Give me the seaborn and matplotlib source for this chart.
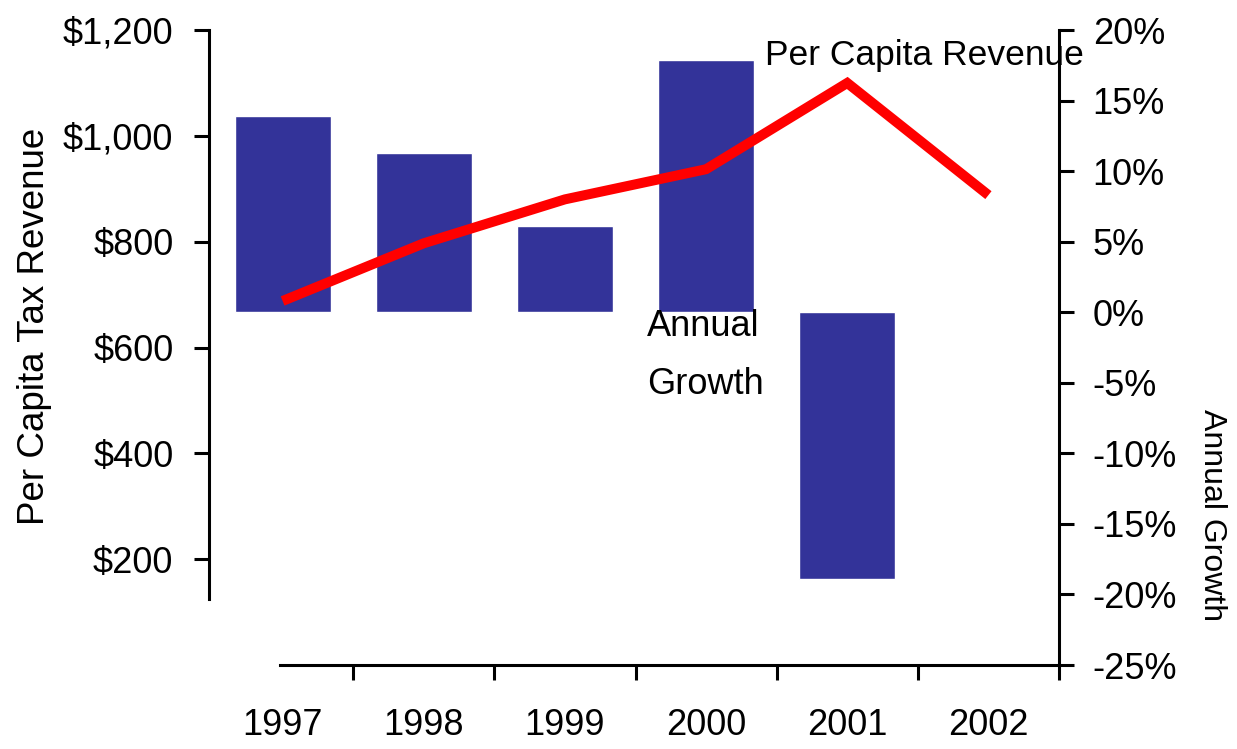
import numpy as np
import pandas as pd
import matplotlib
matplotlib.use("Agg")
import matplotlib.pyplot as plt
from matplotlib.ticker import FixedLocator, FuncFormatter
import seaborn as sns

# ---- data ----
years = ["1997", "1998", "1999", "2000", "2001", "2002"]
revenue = [688, 797, 880, 937, 1100, 888]          # per capita revenue ($), left axis
growth = [13.9, 11.3, 6.1, 17.9, -18.9, np.nan]     # annual growth (%), right axis
rev_ticks = [200, 400, 600, 800, 1000, 1200]
growth_ticks = [-25, -20, -15, -10, -5, 0, 5, 10, 15, 20]

sns.set_theme(style="white")
plt.rcParams["font.family"] = ["Liberation Sans", "DejaVu Sans"]
plt.rcParams["text.color"] = "black"

df = pd.DataFrame({"Year": years, "Revenue": revenue, "Growth": growth,
                   "pos": np.arange(len(years))})

BAR = "#333399"
LINE = "#FF0000"
TXT = 26

fig = plt.figure(figsize=(12.37, 7.49), dpi=100)
ax = fig.add_axes([0.1714, 0.1121, 0.6847, 0.8478])   # revenue (left)
ax2 = ax.twinx()                                       # growth (right)

sns.barplot(data=df, x="Year", y="Growth", order=years, ax=ax2,
            color=BAR, saturation=1, width=0.68, errorbar=None)
sns.lineplot(data=df, x="pos", y="Revenue", ax=ax, color=LINE,
             linewidth=7.2, solid_capstyle="butt", solid_joinstyle="miter")

ax.set_zorder(ax2.get_zorder() + 1)
ax.patch.set_visible(False)

# limits
ax.set_xlim(-0.5, len(years) - 0.5)
ax.set_ylim(0, 1200)
ax2.set_ylim(-25, 20)

# x ticks: marks at boundaries, labels at centers
ax.xaxis.set_major_locator(FixedLocator(np.arange(len(years)) + 0.5))
ax.xaxis.set_major_formatter(FuncFormatter(lambda v, p: ""))
ax.xaxis.set_minor_locator(FixedLocator(np.arange(len(years))))
ax.xaxis.set_minor_formatter(FuncFormatter(lambda v, p: years[int(round(v))]))
ax.tick_params(axis="x", which="major", direction="out", length=10.5, width=2.2,
               color="black", bottom=True)
ax.tick_params(axis="x", which="minor", length=0, pad=31, labelsize=TXT,
               labelcolor="black", bottom=True)

# left axis
ax.yaxis.set_major_locator(FixedLocator(rev_ticks))
ax.yaxis.set_major_formatter(FuncFormatter(lambda v, p: f"${v:,.0f}"))
ax.tick_params(axis="y", which="major", direction="out", length=10.8, width=2.2,
               color="black", left=True, pad=15, labelsize=TXT, labelcolor="black")

# right axis
ax2.yaxis.set_major_locator(FixedLocator(growth_ticks))
ax2.yaxis.set_major_formatter(FuncFormatter(lambda v, p: f"{v:.0f}%".replace("\u2212", "-")))
ax2.tick_params(axis="y", which="major", direction="out", length=10.8, width=2.2,
                color="black", right=True, pad=13.5, labelsize=TXT, labelcolor="black")

ax.set_xlabel("")
ax.set_ylabel("")
ax2.set_xlabel("")
ax2.set_ylabel("")

# spines
for s in ["top", "right"]:
    ax.spines[s].set_visible(False)
for s in ["top", "left", "bottom"]:
    ax2.spines[s].set_visible(False)
for sp in [ax.spines["left"], ax.spines["bottom"], ax2.spines["right"]]:
    sp.set_visible(True)
    sp.set_color("black")
    sp.set_linewidth(2.2)
ax.spines["left"].set_bounds(125, 1200)
ax.spines["left"].set_position(("outward", 2))
ax.spines["bottom"].set_bounds(-0.02, len(years) - 0.5)

# axis titles
fig.text(35 / 1237, 1 - 326 / 749, "Per Capita Tax Revenue", rotation=90,
         ha="center", va="center", fontsize=26.5, color="black")
fig.text(1212 / 1237, 1 - 515 / 749, "Annual Growth", rotation=270,
         ha="center", va="center", fontsize=23, color="black")

# series annotations
ax.text(3.415, 1134, "Per Capita Revenue", fontsize=25.5, ha="left", va="baseline",
        color="black")
ax2.text(2.58, 0.2, "Annual\nGrowth", fontsize=TXT, ha="left", va="top",
         linespacing=1.85, color="black")

fig.savefig("out.png", dpi=100, facecolor="white")
